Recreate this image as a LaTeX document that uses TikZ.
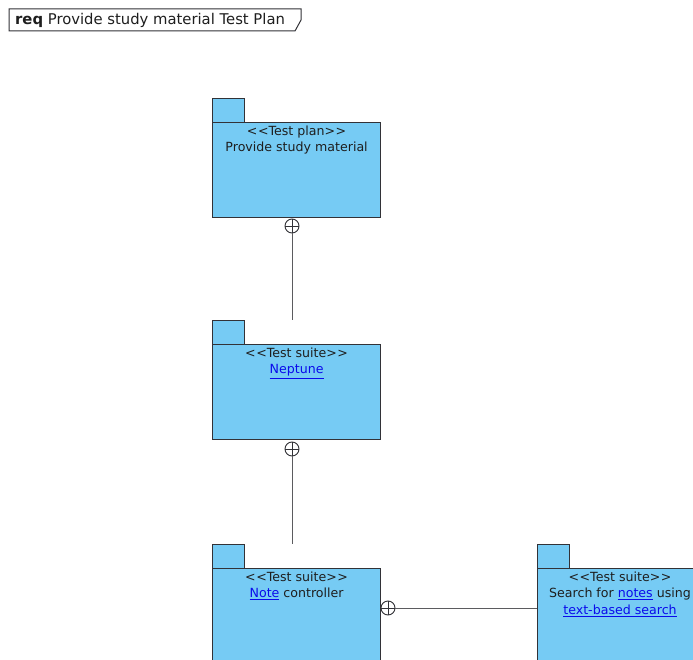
\documentclass[tikz,border=0pt]{standalone}
\usepackage{fontspec}
\setmainfont{DejaVu Sans}
\usetikzlibrary{positioning}
\definecolor{pkgfill}{RGB}{118,203,244}
\definecolor{pkgline}{RGB}{50,50,55}
\definecolor{linkblue}{RGB}{10,10,235}
\definecolor{txt}{RGB}{30,30,30}
\newcommand{\lnk}[1]{\textcolor{linkblue}{\underline{#1}}}
\newcommand{\stereo}[1]{{<}\kern0.5pt{<}#1{>}\kern0.5pt{>}}
\begin{document}
\begin{tikzpicture}[x=1pt,y=-1pt,
  pkgtab/.style={draw=pkgline, fill=pkgfill, line width=1.2pt, inner sep=0pt,
    minimum width=32pt, minimum height=24pt, anchor=north west},
  pkgbody/.style={draw=pkgline, fill=pkgfill, line width=1.2pt, inner sep=0pt,
    minimum width=168pt, minimum height=95pt, anchor=north west},
  pkgtext/.style={anchor=north, align=center, inner sep=0pt, text=txt,
    font=\fontsize{12.6}{16.5}\selectfont},
  oplus/.style={circle, draw=pkgline, line width=0.9pt, minimum size=14pt, inner sep=0pt,
    path picture={\draw[pkgline, line width=0.9pt]
      (path picture bounding box.north) -- (path picture bounding box.south)
      (path picture bounding box.west) -- (path picture bounding box.east);}},
  conn/.style={draw=pkgline!80, line width=0.9pt}]
\useasboundingbox (0,0) rectangle (693,660);
\clip (0,0) rectangle (693,660);
\fill[white] (0,0) rectangle (693,660);

% diagram frame label
\draw[pkgline, line width=1pt] (9,9) -- (301,9) -- (301,20) -- (295,31) -- (9,31) -- cycle;
\node[anchor=west, inner sep=0pt, text=txt, font=\fontsize{14.8}{16}\selectfont] (title) at (15,20)
  {\textbf{req} Provide study material Test Plan};

% test plan package
\node[pkgtab] (p1tab) at (212,98) {};
\node[pkgbody] (p1) at (212,122) {};
\node[pkgtext] (p1txt) at ([yshift=-3.5pt]p1.north) {\stereo{Test plan}\\Provide study material};

% Neptune suite
\node[pkgtab] (p2tab) at (212,320) {};
\node[pkgbody] (p2) at (212,344) {};
\node[pkgtext] (p2txt) at ([yshift=-3.5pt]p2.north) {\stereo{Test suite}\\\lnk{Neptune}};
\coordinate (p2top) at (292,320);

% Note controller suite
\node[pkgtab] (p3tab) at (212,544) {};
\node[pkgbody, minimum height=110pt] (p3) at (212,568) {};
\node[pkgtext] (p3txt) at ([yshift=-3.5pt]p3.north) {\stereo{Test suite}\\\lnk{Note} controller};
\coordinate (p3top) at (292,544);

% search suite
\node[pkgtab] (p4tab) at (537,544) {};
\node[pkgbody, minimum width=170pt, minimum height=110pt] (p4) at (537,568) {};
\node[pkgtext] (p4txt) at (620,571.5)
  {\stereo{Test suite}\\Search for \lnk{notes} using\\\lnk{text-based search}};

% containment connectors
\node[oplus] (c1) at (292,226) {};
\node[oplus] (c2) at (292,449) {};
\node[oplus] (c3) at (388,608) {};
\draw[conn] (c1) -- (p2top);
\draw[conn] (c2) -- (p3top);
\draw[conn] (c3) -- (c3 -| p4.west);
\end{tikzpicture}
\end{document}
